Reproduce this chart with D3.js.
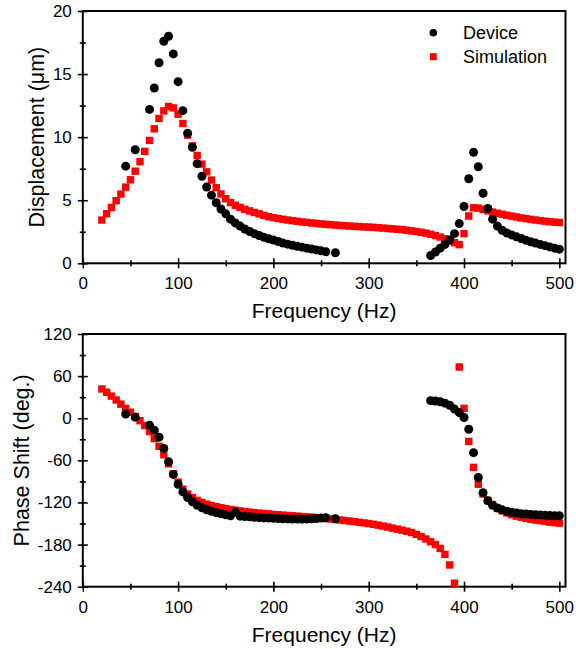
<!DOCTYPE html>
<html>
<head>
<meta charset="utf-8">
<script src="https://cdn.jsdelivr.net/npm/d3@7"></script>
<style>
  body { margin: 0; background: #fff; }
  svg { display: block; font-family: "Liberation Sans", Arial, sans-serif; }
</style>
</head>
<body>
<script>
// Dados
var devFreq = [45, 55, 70, 75, 80, 85, 90, 95, 100, 105, 110, 115, 120, 125, 130, 135, 140, 145, 150, 155,
  160, 165, 170, 175, 180, 185, 190, 195, 200, 205, 210, 215, 220, 225, 230, 235, 240, 245, 250, 255, 265,
  365, 370, 375, 380, 385, 390, 395, 400, 405, 410, 415, 420, 425, 430, 435, 440, 445, 450, 455, 460,
  465, 470, 475, 480, 485, 490, 495, 500];
var devAmp = [7.7, 9.0, 12.2, 13.9, 15.9, 17.6, 18.0, 16.6, 14.4, 12.1, 10.3, 9.2, 7.9, 6.9, 6.05, 5.4, 4.8, 4.3, 3.92, 3.5,
  3.2, 2.95, 2.72, 2.52, 2.35, 2.2, 2.06, 1.95, 1.84, 1.73, 1.6, 1.52, 1.43, 1.35, 1.28, 1.2, 1.13, 1.06, 0.99, 0.92, 0.84,
  0.62, 0.9, 1.2, 1.5, 1.85, 2.35, 3.15, 4.5, 6.7, 8.8, 7.65, 5.55, 4.35, 3.5, 2.95, 2.62, 2.4, 2.25, 2.1, 1.97,
  1.82, 1.7, 1.6, 1.5, 1.4, 1.3, 1.2, 1.12];
var devPhase = [6, 1.5, -10, -17, -27, -43, -62, -80, -94, -105, -113, -119, -124, -127.5, -130.5, -132.5, -134.5, -136, -137.5, -139,
  -133.5, -139.5, -140, -140.5, -141, -141.5, -142, -142.3, -142.6, -143, -143.2, -143.4, -143.6, -143.7, -143.8, -143.6, -143.2, -142.8, -142.2, -141.8, -143.2,
  25, 24.5, 23.5, 21.5, 18.5, 13, 8, 1, -15.7, -49, -84.5, -106, -117.5, -124, -128, -130.5, -132.5, -134, -135, -136,
  -136.5, -137, -137.5, -138, -138.3, -138.6, -138.8, -139];

var simFreq = [20, 25, 30, 35, 40, 45, 50, 55, 60, 65, 70, 75, 80, 85, 90, 95, 100, 105, 110, 115,
  120, 125, 130, 135, 140, 145, 150, 155, 160, 165, 170, 175, 180, 185, 190, 195, 200, 205, 210, 215,
  220, 225, 230, 235, 240, 245, 250, 255, 260, 265, 270, 275, 280, 285, 290, 295, 300, 305, 310, 315,
  320, 325, 330, 335, 340, 345, 350, 355, 360, 365, 370, 375, 380, 385, 390, 395, 400, 405, 410, 415,
  420, 425, 430, 435, 440, 445, 450, 455, 460, 465, 470, 475, 480, 485, 490, 495, 500];
var simAmp = [3.43, 3.93, 4.43, 4.96, 5.49, 6.04, 6.62, 7.3, 8.05, 8.87, 9.74, 10.66, 11.48, 12.08, 12.43, 12.32, 11.82, 11.08, 10.16, 9.31,
  8.55, 7.86, 7.25, 6.6, 6.0, 5.5, 5.12, 4.82, 4.6, 4.43, 4.28, 4.15, 4.03, 3.92, 3.8, 3.7, 3.62, 3.55, 3.49, 3.43,
  3.38, 3.33, 3.28, 3.24, 3.2, 3.16, 3.12, 3.09, 3.06, 3.03, 3.0, 2.98, 2.95, 2.93, 2.91, 2.89, 2.87, 2.85, 2.82, 2.79,
  2.76, 2.73, 2.7, 2.66, 2.62, 2.57, 2.52, 2.46, 2.39, 2.3, 2.2, 2.08, 1.95, 1.8, 1.63, 1.48, 2.35, 3.75, 4.4, 4.38,
  4.27, 4.16, 4.06, 3.97, 3.89, 3.81, 3.74, 3.67, 3.6, 3.54, 3.48, 3.43, 3.38, 3.34, 3.3, 3.26, 3.23];
var simPhase = [41.7, 37, 31.5, 26, 20, 14, 8.5, 2.5, -3.5, -10.5, -19, -29, -40, -52, -65, -79, -91, -101, -108, -113,
  -117, -120, -122.5, -124.5, -126, -127.5, -128.8, -130, -131, -132, -133, -133.8, -134.5, -135.2, -135.8, -136.4, -137, -137.5, -138, -138.5,
  -139, -139.5, -140, -140.5, -141, -141.6, -142.2, -142.8, -143.5, -144.2, -145, -145.7, -146.5, -147.3, -148.2, -149.1, -150, -151.1, -152.3, -153.6,
  -155, -156.5, -158, -159.5, -161, -162.8, -165.5, -168.5, -172, -176, -180, -185.5, -194, -209, -235, 73, 14, -33, -70, -94,
  -108, -117, -123, -128, -132, -135, -137.5, -139.5, -141, -142.5, -143.8, -145, -146, -147, -148, -148.8, -149.5];

var freqTicks = [0, 100, 200, 300, 400, 500];
var freqMinor = [50, 150, 250, 350, 450];
var ampTicks = [0, 5, 10, 15, 20];
var ampMinor = [2.5, 7.5, 12.5, 17.5];
var phaseTicks = [-240, -180, -120, -60, 0, 60, 120];
var phaseMinor = [-210, -150, -90, -30, 30, 90];

var device = devFreq.map(function(f, i) { return {f: f, amp: devAmp[i], phase: devPhase[i]}; });
var sim = simFreq.map(function(f, i) { return {f: f, amp: simAmp[i], phase: simPhase[i]}; });

var width = 576, height = 649;

var svg = d3.select("body").append("svg")
    .attr("width", width)
    .attr("height", height);

var x = d3.scaleLinear().domain([0, 506.5]).range([82.8, 565.5]);
var yAmp = d3.scaleLinear().domain([0, 20]).range([263.3, 11]);
var yPhase = d3.scaleLinear().domain([-240, 120]).range([586.7, 334]);

function painel(y, major, minor, key, titulo, tituloX) {
  var g = svg.append("g");
  var y0 = y.range()[0], y1 = y.range()[1];

  // eixo x
  g.append("g")
      .attr("transform", "translate(0," + y0 + ")")
      .call(d3.axisBottom(x).tickValues(freqTicks).tickSize(5).tickPadding(9).tickFormat(d3.format("d")))
      .call(function(a) { a.select(".domain").remove(); a.selectAll(".tick line").attr("y1", -5); });
  g.append("g")
      .attr("transform", "translate(0," + y0 + ")")
      .call(d3.axisBottom(x).tickValues(freqMinor).tickSize(3).tickFormat(""))
      .call(function(a) { a.select(".domain").remove(); a.selectAll(".tick line").attr("y1", -3); });

  // eixo y
  g.append("g")
      .attr("transform", "translate(" + x.range()[0] + ",0)")
      .call(d3.axisLeft(y).tickValues(major).tickSize(5).tickPadding(6).tickFormat(function(d) { return String(d); }))
      .call(function(a) { a.select(".domain").remove(); a.selectAll(".tick line").attr("x1", 5); });
  g.append("g")
      .attr("transform", "translate(" + x.range()[0] + ",0)")
      .call(d3.axisLeft(y).tickValues(minor).tickSize(3).tickFormat(""))
      .call(function(a) { a.select(".domain").remove(); a.selectAll(".tick line").attr("x1", 3); });

  g.selectAll(".tick line").attr("stroke", "#000").attr("stroke-width", 1.6);
  g.selectAll(".tick text").attr("font-size", "17px").attr("fill", "#000")
      .attr("font-family", "'Liberation Sans', Arial, sans-serif");

  // moldura
  g.append("rect")
      .attr("x", x.range()[0])
      .attr("y", y1)
      .attr("width", x.range()[1] - x.range()[0])
      .attr("height", y0 - y1)
      .attr("fill", "none")
      .attr("stroke", "#000")
      .attr("stroke-width", 2);

  // simulação
  g.selectAll(".sim")
      .data(sim)
      .enter().append("rect")
      .attr("class", "sim")
      .attr("x", function(d) { return x(d.f) - 3.7; })
      .attr("y", function(d) { return y(d[key]) - 3.7; })
      .attr("width", 7.4)
      .attr("height", 7.4)
      .attr("fill", "#ff0000");

  // dispositivo
  g.selectAll(".dot")
      .data(device)
      .enter().append("circle")
      .attr("class", "dot")
      .attr("r", 4.5)
      .attr("cx", function(d) { return x(d.f); })
      .attr("cy", function(d) { return y(d[key]); })
      .attr("fill", "#000");

  g.append("text")
      .attr("x", (x.range()[0] + x.range()[1]) / 2)
      .attr("y", y0 + 55)
      .attr("text-anchor", "middle")
      .attr("font-size", "21px")
      .text("Frequency (Hz)");

  g.append("text")
      .attr("transform", "translate(" + tituloX + "," + ((y0 + y1) / 2) + ") rotate(-90)")
      .attr("text-anchor", "middle")
      .attr("font-size", "21.5px")
      .text(titulo);
}

painel(yAmp, ampTicks, ampMinor, "amp", "Displacement (\u03bcm)", 44);
painel(yPhase, phaseTicks, phaseMinor, "phase", "Phase Shift (deg.)", 29);

// legenda
svg.append("circle").attr("cx", 433.3).attr("cy", 32.7).attr("r", 3.8).attr("fill", "#000");
svg.append("rect").attr("x", 429.8).attr("y", 53.2).attr("width", 7).attr("height", 7).attr("fill", "#ff0000");
svg.append("text").attr("x", 463).attr("y", 38.5).attr("font-size", "18px").text("Device");
svg.append("text").attr("x", 463).attr("y", 62.5).attr("font-size", "18px").text("Simulation");
</script>
</body>
</html>
